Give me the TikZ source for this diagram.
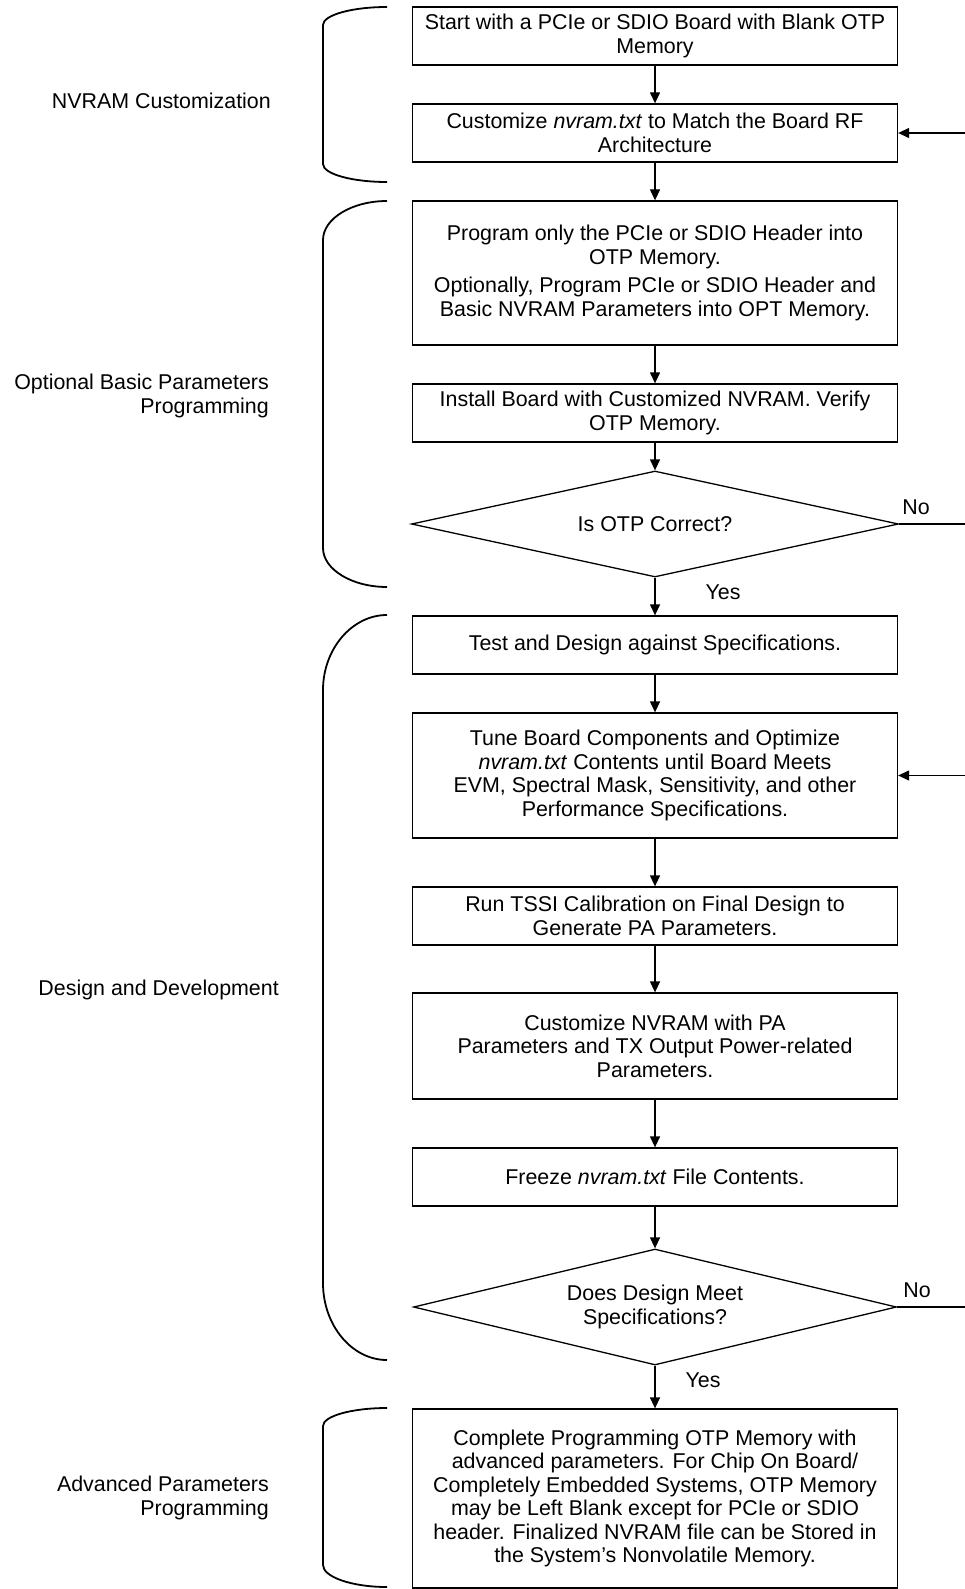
\documentclass[tikz,border=0pt]{standalone}
\usepackage{fontspec}
\setmainfont{Liberation Sans}
\usetikzlibrary{positioning, shapes.geometric, arrows.meta}

\begin{document}
\begin{tikzpicture}[x=1pt, y=-1pt,
    font=\fontsize{21.4}{23.5}\selectfont,
    box/.style={draw, line width=1.3pt, minimum width=485pt, inner sep=0pt, align=center},
    decision/.style={draw, diamond, line width=1.3pt, inner sep=0pt, align=center},
    flow/.style={line width=1.3pt, -{Triangle[length=11pt, width=10pt]}},
    brace/.style={line width=1.8pt},
    grouplabel/.style={anchor=east, inner sep=0pt, align=right}]
    \useasboundingbox (0,0) rectangle (965,1589);

    \node[box, minimum height=58pt]  at (655,36)     (B1) {Start with a PCIe or SDIO Board with Blank OTP\\Memory};
    \node[box, minimum height=58pt]  at (655,133)    (B2) {Customize \textit{nvram.txt} to Match the Board RF\\Architecture};
    \node[box, minimum height=144pt] at (655,273)    (B3) {Program only the PCIe or SDIO Header into\\OTP Memory.\\[5pt]Optionally, Program PCIe or SDIO Header and\\Basic NVRAM Parameters into OPT Memory.};
    \node[box, minimum height=58pt]  at (655,413)    (B4) {Install Board with Customized NVRAM. Verify\\OTP Memory.};
    \node[decision, aspect=4.6, minimum width=487pt, minimum height=106pt] at (655,524) (D1) {Is OTP Correct?};
    \node[box, minimum height=58pt]  at (655,645)    (B5) {Test and Design against Specifications.};
    \node[box, minimum height=125pt] at (655,775.5)  (B6) {Tune Board Components and Optimize\\\textit{nvram.txt} Contents until Board Meets\\EVM, Spectral Mask, Sensitivity, and other\\Performance Specifications.};
    \node[box, minimum height=58pt]  at (655,916)    (B7) {Run TSSI Calibration on Final Design to\\Generate PA Parameters.};
    \node[box, minimum height=106pt] at (655,1046)   (B8) {Customize NVRAM with PA\\Parameters and TX Output Power-related\\Parameters.};
    \node[box, minimum height=58pt]  at (655,1177)   (B9) {Freeze \textit{nvram.txt} File Contents.};
    \node[decision, aspect=4.16, minimum width=483pt, minimum height=116pt] at (655,1307) (D2) {Does Design Meet\\Specifications?};
    \node[box, minimum height=179pt] at (655,1498.5) (B10) {Complete Programming OTP Memory with\\advanced parameters. For Chip On Board/\\Completely Embedded Systems, OTP Memory\\may be Left Blank except for PCIe or SDIO\\header. Finalized NVRAM file can be Stored in\\the System's Nonvolatile Memory.};

    \draw[flow]
        (B1) edge (B2)
        (B2) edge (B3)
        (B3) edge (B4)
        (B4) edge (D1)
        (D1) edge (B5)
        (B5) edge (B6)
        (B6) edge (B7)
        (B7) edge (B8)
        (B8) edge (B9)
        (B9) edge (D2)
        (D2) edge (B10);

    \coordinate (noA)   at (965,524);
    \coordinate (backA) at (965,133);
    \coordinate (noB)   at (965,1307);
    \coordinate (backB) at (965,775.5);
    \draw[line width=1.3pt] (D1.east) -- (noA);
    \draw[line width=1.3pt] (D2.east) -- (noB);
    \draw[flow] (backA) -- (B2.east);
    \draw[flow] (backB) -- (B6.east);

    \node at (916,507)  (no1)  {No};
    \node at (917,1290) (no2)  {No};
    \node at (723,592)  (yes1) {Yes};
    \node at (703,1380) (yes2) {Yes};

    \node[grouplabel] at (271,101)  (G1) {NVRAM Customization};
    \node[grouplabel] at (269,396)  (G2) {Optional Basic Parameters\\Programming};
    \node[grouplabel] at (279,990)  (G3) {Design and Development};
    \node[grouplabel] at (269,1498) (G4) {Advanced Parameters\\Programming};

    \draw[brace] (387,7) .. controls (352,7) and (323,15) .. (323,25)
        -- (323,164) .. controls (323,174) and (352,182) .. (387,182);
    \draw[brace] (387,201) .. controls (352,201) and (323,218.5) .. (323,240)
        -- (323,548) .. controls (323,569.5) and (352,587) .. (387,587);
    \draw[brace] (387,615) .. controls (352,615) and (323,649) .. (323,690)
        -- (323,1283) .. controls (323,1325.5) and (352,1360) .. (387,1360);
    \draw[brace] (387,1408) .. controls (352,1408) and (323,1416) .. (323,1426)
        -- (323,1565) .. controls (323,1577) and (352,1587) .. (387,1587);
\end{tikzpicture}
\end{document}
